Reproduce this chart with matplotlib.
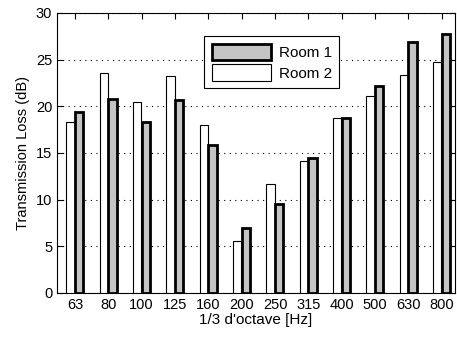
import numpy as np
import matplotlib.pyplot as plt

plt.rcParams['font.family'] = ['Liberation Sans', 'DejaVu Sans']

# bandes de 1/3 d'octave
bandes = ['63', '80', '100', '125', '160', '200', '250', '315', '400', '500', '630', '800']
room1 = [19.4, 20.8, 18.3, 20.7, 15.9, 7.0, 9.5, 14.5, 18.7, 22.2, 26.9, 27.8]
room2 = [18.3, 23.6, 20.5, 23.2, 18.0, 5.6, 11.7, 14.1, 18.7, 21.1, 23.4, 24.7]

fig = plt.figure(figsize=(4.57, 3.41), dpi=100)
ax = fig.add_axes([57/457, 48/341, 398/457, 280/341])

x = np.arange(1, len(bandes) + 1)
w = 0.25
ax.bar(x - 0.14, room2, w, color='white', edgecolor='black', linewidth=0.8, label='Room 2', zorder=3)
ax.bar(x + 0.12, room1, w, color='#c4c4c4', edgecolor='black', linewidth=2.0, label='Room 1', zorder=3)

ax.set_xlim(0.46, 12.4)
ax.set_ylim(0, 30)
ax.set_xticks(x)
ax.set_xticklabels(bandes)
ax.set_yticks(np.arange(0, 31, 5))
ax.tick_params(direction='in', length=4, top=True, right=True, labelsize=10.5, width=0.8)
ax.yaxis.grid(True, linestyle=(0, (1, 4)), color='black', linewidth=0.8)
ax.set_axisbelow(True)
for s in ax.spines.values():
    s.set_linewidth(0.8)

ax.set_xlabel("1/3 d'octave [Hz]", fontsize=11, labelpad=1)
ax.set_ylabel("Transmission Loss (dB)", fontsize=10.5, labelpad=4)

h, l = ax.get_legend_handles_labels()
leg = ax.legend(h[::-1], l[::-1], loc='upper left', bbox_to_anchor=(0.369, 0.918),
                fontsize=11, handlelength=3.9, handleheight=1.25, handletextpad=0.5,
                fancybox=False, edgecolor='black', framealpha=1,
                borderpad=0.5, labelspacing=0.3, borderaxespad=0)
leg.get_frame().set_linewidth(0.8)

fig.savefig('out.png', dpi=100)
